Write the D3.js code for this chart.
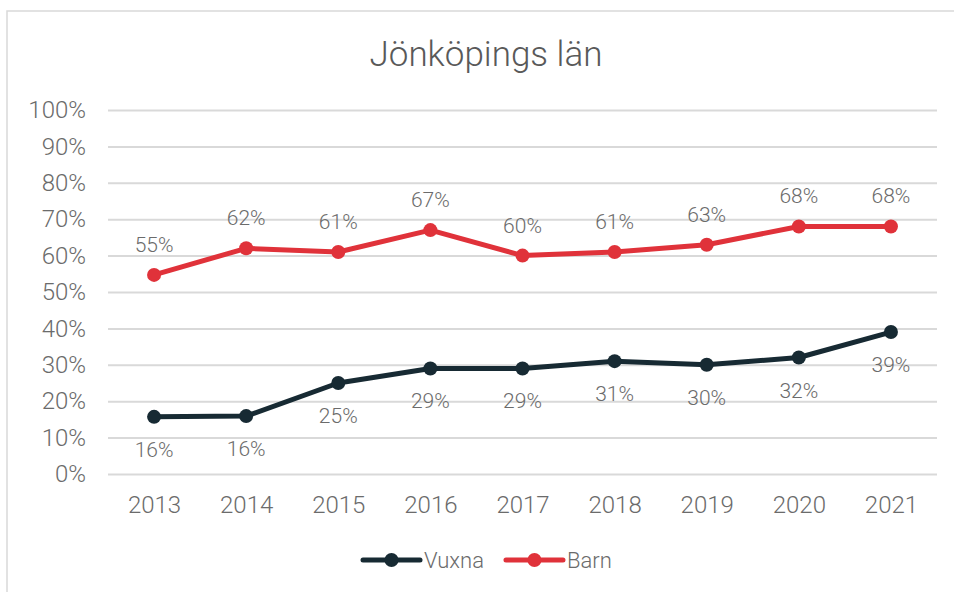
<!DOCTYPE html>
<html>
<head>
<meta charset="utf-8">
<script src="https://cdn.jsdelivr.net/npm/d3@7"></script>
<style>
  body { margin: 0; background: #fff; }
  svg { display: block; }
</style>
</head>
<body>
<svg></svg>
<script>
// Data
var years = ["2013", "2014", "2015", "2016", "2017", "2018", "2019", "2020", "2021"];
var vuxna = [15.7, 15.9, 25, 29, 29, 31, 30, 32, 39];
var barn = [54.7, 62, 61, 67, 60, 61, 63, 68, 68];
var yTicks = [0, 10, 20, 30, 40, 50, 60, 70, 80, 90, 100];

var width = 954, height = 592;
var textColor = "#6b6b6b";

var svg = d3.select("svg")
    .attr("width", width)
    .attr("height", height)
    .attr("font-family", "Roboto, sans-serif")
    .attr("font-weight", 300);

// ram runt diagrammet
svg.append("rect")
    .attr("x", 7).attr("y", 11)
    .attr("width", 960).attr("height", 600)
    .attr("fill", "none")
    .attr("stroke", "#d9d9d9")
    .attr("stroke-width", 1.5);

var x = d3.scalePoint()
    .domain(years)
    .range([108, 937])
    .padding(0.5);

var y = d3.scaleLinear()
    .domain([0, 100])
    .range([474, 110]);

// titel
svg.append("text")
    .attr("x", 486).attr("y", 66)
    .attr("text-anchor", "middle")
    .attr("font-size", 35)
    .attr("fill", "#595959")
    .text("Jönköpings län");

// rutnät + y-axel
var yAxis = svg.append("g")
    .attr("transform", "translate(108,0)")
    .call(d3.axisLeft(y).tickValues(yTicks)
        .tickSize(-829)
        .tickPadding(22)
        .tickFormat(function(d) { return d + "%"; }));
yAxis.select(".domain").remove();
yAxis.selectAll(".tick line").attr("stroke", "#d9d9d9").attr("stroke-width", 2);
yAxis.selectAll(".tick text")
    .attr("font-size", 24)
    .attr("font-family", "Roboto, sans-serif")
    .attr("fill", textColor);

// x-axel
var xAxis = svg.append("g")
    .attr("transform", "translate(0,474)")
    .call(d3.axisBottom(x).tickSize(0).tickPadding(22));
xAxis.select(".domain").remove();
xAxis.selectAll(".tick text")
    .attr("font-size", 24)
    .attr("font-family", "Roboto, sans-serif")
    .attr("fill", textColor);

var series = [
  { name: "Vuxna", values: vuxna, color: "#172a33", dy: 40 },
  { name: "Barn", values: barn, color: "#e0323a", dy: -23 }
];

var line = d3.line()
    .x(function(d, i) { return x(years[i]); })
    .y(function(d) { return y(d); });

series.forEach(function(s) {
  svg.append("path")
      .datum(s.values)
      .attr("d", line)
      .attr("fill", "none")
      .attr("stroke", s.color)
      .attr("stroke-width", 5)
      .attr("stroke-linejoin", "round");

  svg.append("g").selectAll("circle")
      .data(s.values)
      .enter().append("circle")
      .attr("cx", function(d, i) { return x(years[i]); })
      .attr("cy", function(d) { return y(d); })
      .attr("r", 7)
      .attr("fill", s.color);

  svg.append("g").selectAll("text")
      .data(s.values)
      .enter().append("text")
      .attr("x", function(d, i) { return x(years[i]); })
      .attr("y", function(d) { return y(d) + s.dy; })
      .attr("text-anchor", "middle")
      .attr("font-size", 21)
      .attr("fill", textColor)
      .text(function(d) { return Math.round(d) + "%"; });
});

// förklaring
var legend = svg.append("g").attr("transform", "translate(363,560)");
var lx = 0;
series.forEach(function(s) {
  var g = legend.append("g").attr("transform", "translate(" + lx + ",0)");
  g.append("line")
      .attr("x1", 0).attr("x2", 57)
      .attr("stroke", s.color)
      .attr("stroke-width", 5)
      .attr("stroke-linecap", "round");
  g.append("circle").attr("cx", 28.5).attr("r", 7).attr("fill", s.color);
  var t = g.append("text")
      .attr("x", 61).attr("y", 8)
      .attr("font-size", 22)
      .attr("fill", textColor)
      .text(s.name);
  lx += 61 + t.node().getComputedTextLength() + 22;
});
</script>
</body>
</html>
